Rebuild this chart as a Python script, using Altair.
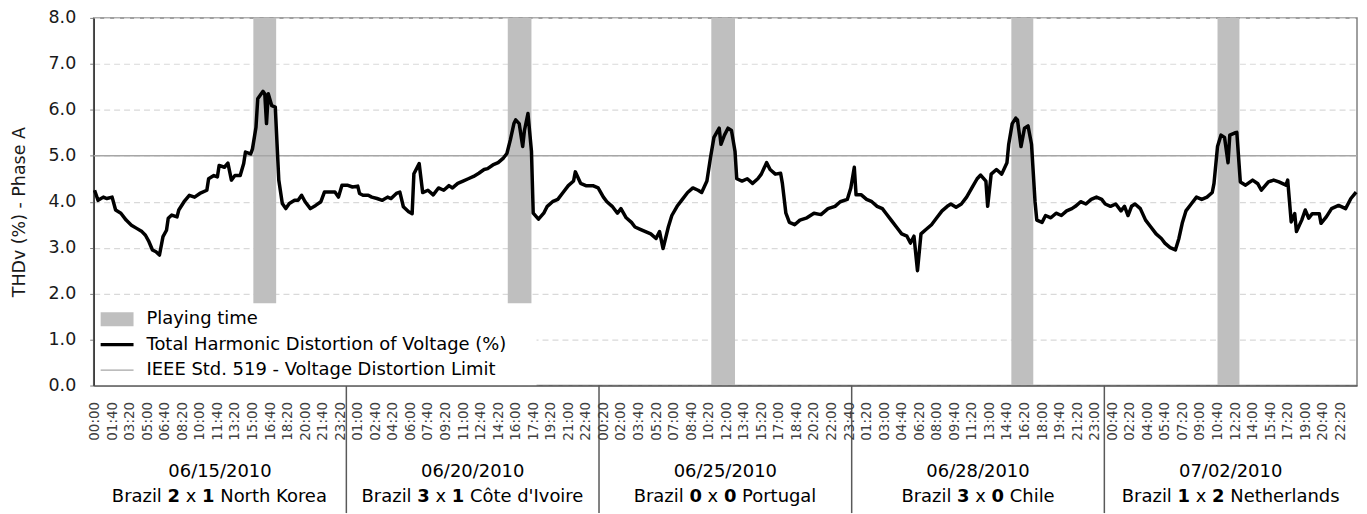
import altair as alt
import pandas as pd

# ------------------------------------------------------------------ data
# time axis: minutes counted from 06/15/2010 00:00, the five match days are
# placed one after the other (1440 minutes each, 10-minute samples)
thd_minutes = [
    0, 20, 50, 70, 100, 120, 150, 180, 210, 240, 270, 290, 310, 330, 350, 370, 390, 410, 420, 440,
    470, 480, 510, 540, 570, 600, 640, 650, 680, 700, 710, 740, 760, 780, 800, 830, 850, 860, 890, 900,
    920, 930, 950, 960, 970, 980, 990, 1010, 1030, 1040, 1050, 1070, 1090, 1110, 1140, 1160, 1180, 1200,
    1230, 1260, 1290, 1310, 1340, 1370, 1390, 1410,
    1440, 1470, 1500, 1510, 1530, 1560, 1580, 1610, 1640, 1670, 1690, 1720, 1740, 1760, 1790, 1810, 1820,
    1850, 1870, 1900, 1930, 1960, 1990, 2020, 2040, 2070, 2100, 2130, 2160, 2190, 2220, 2240, 2270, 2300,
    2330, 2350, 2370, 2390, 2400, 2420, 2440, 2450, 2470, 2490, 2500, 2530, 2560, 2580, 2610, 2640, 2670,
    2700, 2730, 2740, 2770, 2800, 2840, 2870,
    2900, 2920, 2950, 2980, 3000, 3030, 3060, 3080, 3110, 3140, 3170, 3200, 3220, 3240, 3270, 3290, 3320,
    3350, 3380, 3410, 3440, 3460, 3490, 3510, 3530, 3560, 3570, 3590, 3610, 3630, 3650, 3660, 3690, 3720,
    3750, 3780, 3800, 3830, 3850, 3880, 3910, 3920, 3940, 3960, 3990, 4020, 4060, 4100, 4140, 4180, 4220,
    4250, 4290, 4310, 4330, 4340,
    4370, 4400, 4430, 4460, 4490, 4510, 4540, 4570, 4600, 4630, 4650, 4670, 4690, 4710, 4740, 4770, 4800,
    4830, 4860, 4880, 4910, 4940, 4970, 5000, 5030, 5050, 5080, 5090, 5110, 5140, 5170, 5200, 5210, 5230,
    5250, 5260, 5280, 5300, 5320, 5340, 5360, 5370, 5400, 5420, 5450, 5480, 5510, 5540, 5570, 5590, 5620,
    5650, 5680, 5710, 5740,
    5760, 5790, 5820, 5850, 5870, 5890, 5910, 5930, 5960, 5990, 6020, 6050, 6080, 6100, 6130, 6160, 6180,
    6200, 6220, 6250, 6280, 6310, 6340, 6370, 6380, 6400, 6420, 6440, 6460, 6470, 6500, 6510, 6530, 6560,
    6600, 6630, 6650, 6690, 6720, 6750, 6790, 6800, 6820, 6840, 6850, 6880, 6900, 6920, 6940, 6980, 6990,
    7020, 7050, 7090, 7130, 7160, 7190,
]
thd_values = [
    4.25, 4.03, 4.10, 4.07, 4.10, 3.82, 3.75, 3.60, 3.49, 3.42, 3.35, 3.27, 3.13, 2.95, 2.91, 2.84, 3.24, 3.38, 3.64, 3.71,
    3.67, 3.82, 4.00, 4.14, 4.10, 4.18, 4.25, 4.50, 4.57, 4.54, 4.79, 4.75, 4.84, 4.47, 4.57, 4.57, 4.83, 5.08, 5.04, 5.15,
    5.62, 6.24, 6.35, 6.40, 6.35, 5.70, 6.35, 6.09, 6.06, 5.26, 4.47, 3.96, 3.85, 3.96, 4.03, 4.03, 4.14, 4.00,
    3.85, 3.92, 4.00, 4.21, 4.21, 4.21, 4.10, 4.36,
    4.36, 4.32, 4.34, 4.18, 4.14, 4.14, 4.10, 4.07, 4.03, 4.10, 4.07, 4.18, 4.21, 3.89, 3.78, 3.74, 4.61,
    4.83, 4.20, 4.25, 4.15, 4.30, 4.25, 4.35, 4.30, 4.40, 4.45, 4.50, 4.55, 4.62, 4.70, 4.72, 4.80, 4.85,
    4.95, 5.05, 5.35, 5.70, 5.78, 5.70, 5.20, 5.55, 5.92, 5.10, 3.75, 3.62, 3.75, 3.90, 4.00, 4.05, 4.20,
    4.35, 4.45, 4.65, 4.40, 4.35, 4.35, 4.30,
    4.10, 4.00, 3.90, 3.75, 3.85, 3.65, 3.55, 3.45, 3.40, 3.35, 3.30, 3.20, 3.35, 2.98, 3.45, 3.70, 3.90,
    4.05, 4.20, 4.30, 4.25, 4.20, 4.45, 4.95, 5.40, 5.60, 5.25, 5.45, 5.60, 5.55, 5.10, 4.50, 4.45, 4.50,
    4.40, 4.50, 4.60, 4.85, 4.70, 4.60, 4.62, 4.40, 3.75, 3.55, 3.50, 3.60, 3.65, 3.75, 3.72, 3.85, 3.90,
    4.00, 4.05, 4.30, 4.75, 4.15,
    4.15, 4.05, 4.00, 3.90, 3.85, 3.75, 3.60, 3.45, 3.30, 3.25, 3.10, 3.25, 2.50, 3.30, 3.40, 3.50, 3.65,
    3.80, 3.90, 3.95, 3.88, 3.95, 4.10, 4.30, 4.50, 4.58, 4.45, 3.90, 4.60, 4.70, 4.60, 4.85, 5.25, 5.70,
    5.82, 5.78, 5.20, 5.60, 5.65, 5.25, 4.00, 3.60, 3.55, 3.70, 3.65, 3.75, 3.70, 3.80, 3.85, 3.90, 4.00,
    3.95, 4.05, 4.10, 4.05,
    3.95, 3.90, 3.95, 3.80, 3.90, 3.70, 3.90, 3.95, 3.85, 3.60, 3.45, 3.30, 3.20, 3.10, 3.00, 2.95, 3.20,
    3.55, 3.80, 3.95, 4.10, 4.05, 4.10, 4.20, 4.40, 5.20, 5.45, 5.40, 4.85, 5.45, 5.50, 5.51, 4.43, 4.36,
    4.47, 4.39, 4.25, 4.43, 4.47, 4.43, 4.36, 4.47, 3.56, 3.74, 3.35, 3.60, 3.82, 3.64, 3.74, 3.74, 3.53,
    3.67, 3.85, 3.92, 3.85, 4.07, 4.21,
]

# playing time of each match (minutes on the same axis)
band_start = [905, 2355, 3515, 5225, 6400]
band_end = [1035, 2490, 3650, 5350, 6525]

limit_value = 5.0

day_dates = ["06/15/2010", "06/20/2010", "06/25/2010", "06/28/2010", "07/02/2010"]
home_team = "Brazil"
home_goals = ["2", "3", "0", "3", "1"]
away_goals = ["1", "1", "0", "0", "2"]
opponents = ["North Korea", "Côte d'Ivoire", "Portugal", "Chile", "Netherlands"]

series_names = [
    "Playing time",
    "Total Harmonic Distortion of Voltage (%)",
    "IEEE Std. 519 - Voltage Distortion Limit",
]
y_ticks = [0, 1, 2, 3, 4, 5, 6, 7, 8]
time_ticks = list(range(0, 7200, 100))

# ------------------------------------------------------------------ layout
DAY = 1440
STEP = 10
N_DAYS = len(day_dates)
x_domain = [-STEP / 2, N_DAYS * DAY - STEP / 2]
W, H = 1268, 369
ppm = W / (x_domain[1] - x_domain[0])   # pixels per minute
FONT = "DejaVu Sans"
FS = 18

# approximate advance widths (em) of DejaVu Sans, used to centre the
# mixed regular/bold match captions
DJ = {" ": 0.318, "'": 0.275, "B": 0.686, "C": 0.698, "I": 0.295, "K": 0.656,
      "N": 0.748, "P": 0.603, "a": 0.613, "d": 0.635, "e": 0.615, "g": 0.635,
      "h": 0.634, "i": 0.278, "l": 0.278, "n": 0.634, "o": 0.612, "r": 0.411,
      "s": 0.521, "t": 0.392, "u": 0.634, "v": 0.592, "x": 0.592, "z": 0.525, "ô": 0.612}


def em(s):
    return sum(DJ.get(c, 0.6) for c in s)


inner = DJ["x"] / 2 + DJ[" "]
outer = inner + 0.696 + DJ[" "]

rows = []
for k in range(N_DAYS):
    center = k * DAY + (x_domain[1] - x_domain[0]) / N_DAYS / 2 + x_domain[0]
    shift = (em(opponents[k]) - em(home_team)) / 2 * FS / ppm
    xc = center - shift
    rows += [
        dict(kind="date", text=day_dates[k], xpos=center),
        dict(kind="home", text=home_team, xpos=xc - outer * FS / ppm),
        dict(kind="hg", text=home_goals[k], xpos=xc - inner * FS / ppm),
        dict(kind="vs", text="x", xpos=xc),
        dict(kind="ag", text=away_goals[k], xpos=xc + inner * FS / ppm),
        dict(kind="away", text=opponents[k], xpos=xc + outer * FS / ppm),
    ]
labels_df = pd.DataFrame(rows)

line_df = pd.DataFrame({"minute": thd_minutes, "value": thd_values, "series": series_names[1]})
band_df = pd.DataFrame({"start": band_start, "end": band_end, "top": 8.0, "bottom": 0.0,
                        "series": series_names[0]})
limit_df = pd.DataFrame({"value": [limit_value], "series": [series_names[2]]})
sep_df = pd.DataFrame({"sep": [k * DAY + x_domain[0] for k in range(1, N_DAYS)]})

# ------------------------------------------------------------------ scales / axes
xscale = alt.Scale(domain=x_domain, nice=False, zero=False)
yscale = alt.Scale(domain=[0, 8], nice=False, zero=True)

x_axis = alt.Axis(
    values=time_ticks,
    labelExpr="pad(floor((datum.value % 1440) / 60), 2, '0', 'left') + ':' + pad(datum.value % 60, 2, '0', 'left')",
    labelAngle=270, labelFontSize=13.5, labelColor="#404040", labelOverlap=False,
    labelFlush=False, labelBound=False, ticks=False, labelPadding=16, grid=False,
    domainColor="#595959", domainWidth=1.5, title=None, zindex=1,
)
y_axis = alt.Axis(
    values=y_ticks, format=".1f", labelFontSize=17.5, labelColor="#1a1a1a",
    tickSize=4, tickColor="#808080", labelPadding=14,
    domainColor="#333333", domainWidth=1.5,
    grid=True, gridDash=[6, 4], gridColor="#d9d9d9", gridWidth=1.2,
    title="THDv (%) - Phase A", titleFontSize=17.5, titleFontWeight="normal",
    titleColor="#1a1a1a", titleAngle=270, titleX=-74, titleY=H / 2 + 10,
    titleAlign="center", titleBaseline="middle",
)

# legend symbols: filled shapes drawn in pixel units (symbolSize 4 -> scale 1)
legend_shapes = [
    "M-16.5,-7H16.5V7H-16.5Z",
    "M-16.5,-1.6H16.5V1.6H-16.5Z",
    "M-16.5,-0.6H16.5V0.6H-16.5Z",
]
legend = alt.Legend(
    title=None, orient="none", legendX=1.5, legendY=286.5, direction="vertical",
    fillColor="white", padding=7, rowPadding=7.5,
    symbolSize=4, symbolStrokeWidth=0, symbolOpacity=1, symbolOffset=6,
    labelOffset=20.5, labelFontSize=18, labelColor="black", labelLimit=700,
    # trailing blanks widen the white legend box to the right (kept by the final zero-width char)
    labelExpr="datum.label + '\u00a0\u00a0\u00a0\u00a0\u200b'",
)
color_scale = alt.Scale(domain=series_names, range=["#bfbfbf", "#000000", "#a6a6a6"])
shape_scale = alt.Scale(domain=series_names, range=legend_shapes)

bands = alt.Chart(band_df).mark_rect().encode(
    x=alt.X("start:Q", scale=xscale, axis=x_axis),
    x2="end:Q",
    y=alt.Y("top:Q", scale=yscale, axis=y_axis),
    y2="bottom:Q",
    color=alt.Color("series:N", scale=color_scale, legend=legend),
)

limit = alt.Chart(limit_df).mark_rule(strokeWidth=1.6).encode(
    y=alt.Y("value:Q", scale=yscale, axis=y_axis),
    color=alt.Color("series:N", scale=color_scale, legend=legend),
)

line = alt.Chart(line_df).mark_line(strokeJoin="round", strokeWidth=3.5).encode(
    x=alt.X("minute:Q", scale=xscale, axis=x_axis),
    y=alt.Y("value:Q", scale=yscale, axis=y_axis),
    color=alt.Color("series:N", scale=color_scale, legend=legend),
)

# invisible points that only carry the legend symbol shapes
legend_keys = alt.Chart(line_df).mark_point(filled=True, opacity=0, size=0).encode(
    x=alt.X("minute:Q", scale=xscale, axis=x_axis),
    y=alt.Y("value:Q", scale=yscale, axis=y_axis),
    color=alt.Color("series:N", scale=color_scale, legend=legend),
    shape=alt.Shape("series:N", scale=shape_scale, legend=legend),
)

seps = alt.Chart(sep_df).mark_rule(color="#595959", strokeWidth=1.5).encode(
    x=alt.X("sep:Q", scale=xscale, axis=x_axis),
    y=alt.value(H),
    y2=alt.value(H + 128),
)


def text_layer(kind, align, weight, ybase):
    return alt.Chart(labels_df).transform_filter(alt.datum.kind == kind).mark_text(
        align=align, baseline="alphabetic", font=FONT, fontSize=FS,
        fontWeight=weight, color="black",
    ).encode(
        x=alt.X("xpos:Q", scale=xscale, axis=x_axis),
        y=alt.value(ybase),
        text="text:N",
    )


texts = [
    text_layer("date", "center", "normal", 461),
    text_layer("home", "right", "normal", 486),
    text_layer("hg", "right", "bold", 486),
    text_layer("vs", "center", "normal", 486),
    text_layer("ag", "left", "bold", 486),
    text_layer("away", "left", "normal", 486),
]

chart = alt.layer(bands, limit, line, legend_keys, seps, *texts).properties(
    width=W, height=H,
    padding={"left": 86, "top": 9, "right": 2, "bottom": 128},
    autosize=alt.AutoSizeParams(type="none"),
).configure(font=FONT).configure_view(stroke="#808080", strokeWidth=1.5)

chart.save("out.html", embed_options={"renderer": "svg", "actions": False})
